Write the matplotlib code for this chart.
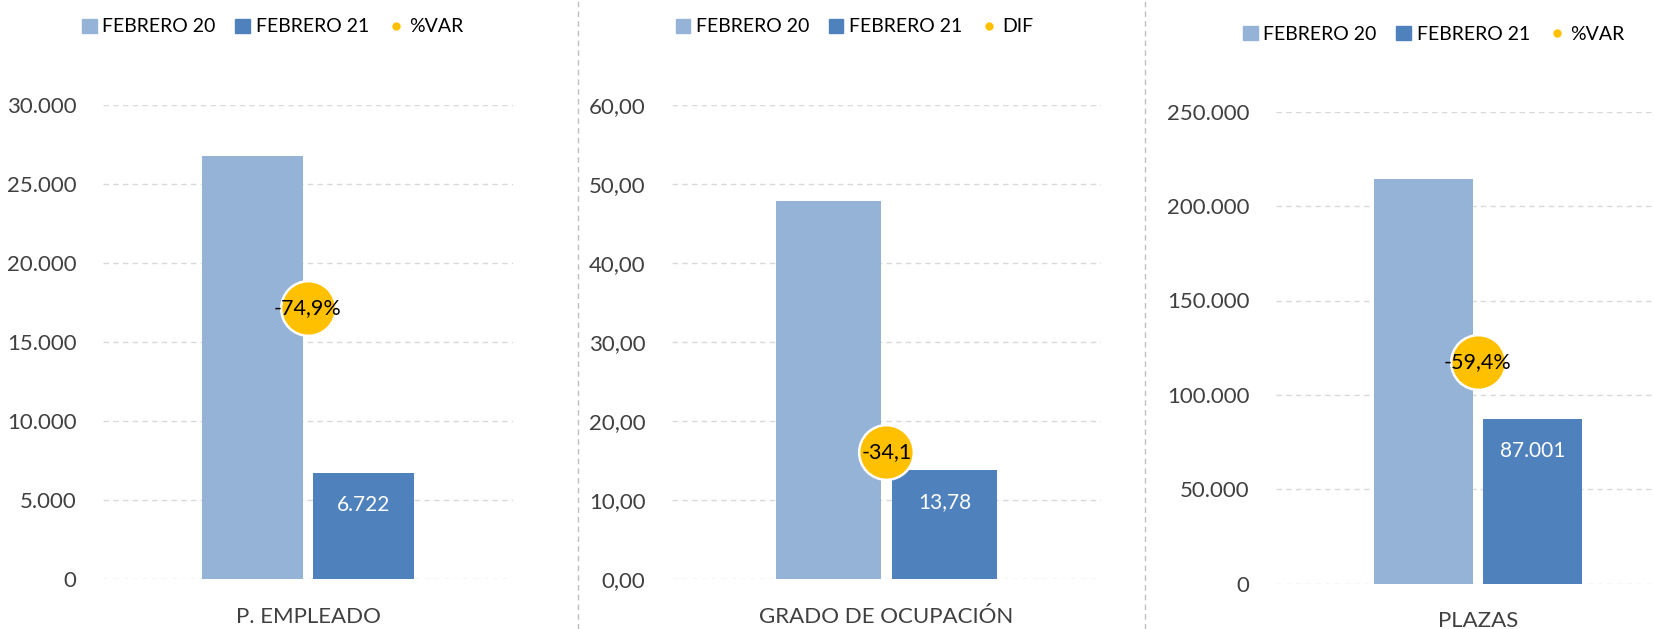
import numpy as np
import matplotlib
matplotlib.use("Agg")
import matplotlib.pyplot as plt
from matplotlib.ticker import FuncFormatter, MultipleLocator
from matplotlib.patches import Patch
from matplotlib.lines import Line2D

plt.rcParams['font.family'] = ['Lato', 'DejaVu Sans']

# datos de cada panel
categorias = ["P. EMPLEADO", "GRADO DE OCUPACIÓN", "PLAZAS"]
febrero_20 = [26781, 47.88, 214300]
febrero_21 = [6722, 13.78, 87001]
variacion = [-74.9, -34.1, -59.4]
etiquetas_var = ["-74,9%", "-34,1", "-59,4%"]
etiquetas_21 = ["6.722", "13,78", "87.001"]
nombre_var = ["%VAR", "DIF", "%VAR"]
limites_y = [30000, 60, 250000]
pasos_y = [5000, 10, 50000]

C_20 = "#95B3D7"
C_21 = "#4F81BD"
C_VAR = "#FFC000"
GRIS = "#404040"

W, H = 1656, 629
fig = plt.figure(figsize=(W / 100, H / 100), dpi=100)

# posiciones de los ejes en pixeles (izq, der, y_cero, y_tope)
cajas = [(103, 513, 579, 105), (672, 1101, 579, 105), (1276, 1680, 583.7, 111.7)]
# posicion vertical del circulo dentro de cada eje (fraccion)
frac_var = [0.572, 0.268, 0.47]
leyendas = [(272.5, 27), (854.5, 27), (1433.5, 34)]


def fmt_miles(v, pos):
    return f"{v:,.0f}".replace(",", ".")


def fmt_dec(v, pos):
    return f"{v:.2f}".replace(".", ",")


ancho = 0.245
sep = 0.135
x = np.arange(1)

for i in range(3):
    izq, der, y0, y1 = cajas[i]
    ax = fig.add_axes([izq / W, 1 - y0 / H, (der - izq) / W, (y0 - y1) / H])
    ax.bar(x - sep, [febrero_20[i]], ancho, color=C_20, zorder=2)
    ax.bar(x + sep, [febrero_21[i]], ancho, color=C_21, zorder=2)
    ax.set_xlim(-0.5, 0.5)
    ax.set_ylim(0, limites_y[i])
    ax.yaxis.set_major_locator(MultipleLocator(pasos_y[i]))
    ax.yaxis.set_major_formatter(FuncFormatter(fmt_dec if i == 1 else fmt_miles))
    ax.set_xticks(x)
    ax.set_xticklabels([categorias[i]])
    ax.tick_params(axis="y", length=0, pad=19, labelsize=16, labelcolor=GRIS)
    ax.tick_params(axis="x", length=0, pad=20, labelsize=16, labelcolor=GRIS)
    ax.grid(axis="y", color="#D9D9D9", linestyle=(0, (4, 3)), linewidth=1, zorder=0)
    for s in ax.spines.values():
        s.set_visible(False)

    # etiqueta dentro de la barra de febrero 21
    ax.annotate(etiquetas_21[i], (x[0] + sep, febrero_21[i]), xytext=(0, -23),
                textcoords="offset points", ha="center", va="center",
                color="white", fontsize=15, zorder=3)

    # circulo de variacion en eje secundario
    ax2 = ax.twinx()
    v = variacion[i]
    f = frac_var[i]
    lo = v / (1 - f)
    ax2.set_ylim(lo, 0)
    ax2.set_xlim(-0.5, 0.5)
    ax2.axis("off")
    ax2.scatter(x, [v], s=1550, color=C_VAR, edgecolor="white", linewidth=1.8,
                zorder=4, clip_on=False)
    ax2.text(x[0], v, etiquetas_var[i], ha="center", va="center", fontsize=15.5,
             color="black", zorder=5)

    handles = [Patch(color=C_20, label="FEBRERO 20"),
               Patch(color=C_21, label="FEBRERO 21"),
               Line2D([], [], marker="o", color="none", markerfacecolor=C_VAR,
                      markeredgecolor="none", markersize=6, label=nombre_var[i])]
    lx, ly = leyendas[i]
    fig.legend(handles=handles, loc="center", bbox_to_anchor=(lx / W, 1 - ly / H),
               ncol=3, frameon=False, fontsize=14, handlelength=0.75,
               handleheight=0.75, handletextpad=0.3, columnspacing=1.0)

# separadores verticales
for xs in [578, 1145]:
    fig.add_artist(Line2D([xs / W, xs / W], [0, 1], transform=fig.transFigure,
                          color="#BFBFBF", linestyle=(0, (4, 3)), linewidth=1))

fig.savefig("out.png", dpi=100)
